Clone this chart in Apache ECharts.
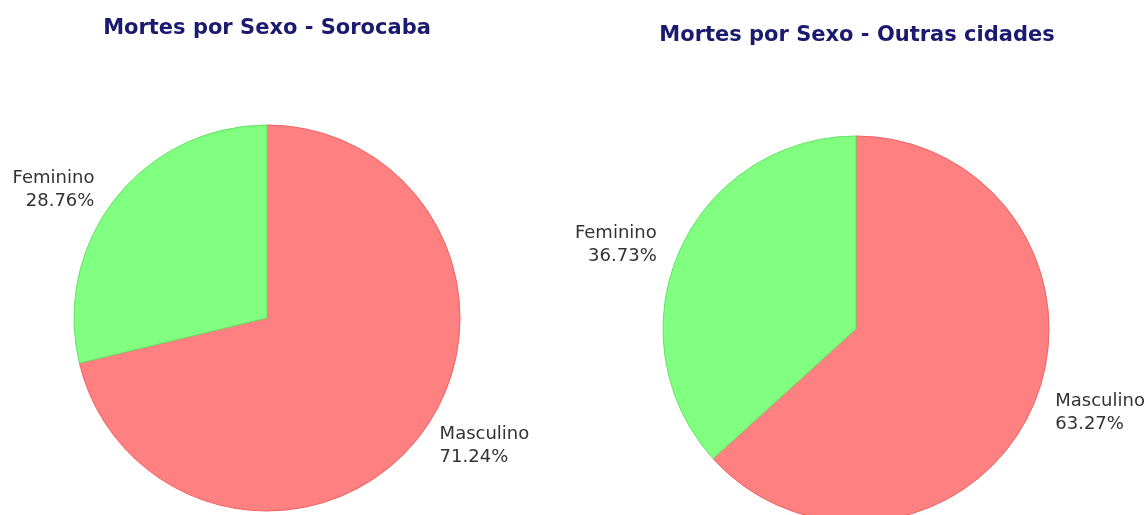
<!DOCTYPE html>
<html>
<head>
<meta charset="utf-8">
<title>Mortes por Sexo</title>
<script src="https://cdn.jsdelivr.net/npm/echarts@6/dist/echarts.min.js"></script>
<style>
  html, body { margin: 0; padding: 0; background: #fff; }
  #chart { width: 1147px; height: 515px; }
</style>
</head>
<body>
<div id="chart"></div>
<script>
// dados
const categories = ['Masculino', 'Feminino'];
const sorocabaValues = [71.24, 28.76];
const outrasValues = [63.27, 36.73];
const chartTitles = ['Mortes por Sexo - Sorocaba', 'Mortes por Sexo - Outras cidades'];

const sliceColors = ['#ff8080', '#80ff80'];
const sliceBorders = ['#f26060', '#66e066'];

const chart = echarts.init(document.getElementById('chart'));

function buildData(values) {
  return categories.map((name, i) => {
    return {
      name: name,
      value: values[i],
      itemStyle: { color: sliceColors[i], borderColor: sliceBorders[i] }
    };
  });
}

function buildPie(values, center) {
  return {
    type: 'pie',
    center: center,
    radius: 193,
    startAngle: 90,
    clockwise: true,
    silent: true,
    data: buildData(values),
    itemStyle: { borderWidth: 1 },
    label: {
      show: true,
      position: 'outside',
      formatter(p) {
        return p.name + '\n' + p.value.toFixed(2) + '%';
      },
      color: '#333',
      fontFamily: 'DejaVu Sans',
      fontSize: 18,
      lineHeight: 23,
      overflow: 'none', // não cortar "Masculino" na borda direita
      distanceToLabelLine: 5
    },
    labelLine: { show: false, length: 14, length2: 5 },
    emphasis: { disabled: true }
  };
}

const titleStyle = {
  color: '#1a1a6e',
  fontFamily: 'DejaVu Sans',
  fontWeight: 'bold',
  fontSize: 21
};

chart.setOption({
  animation: false,
  title: [
    { text: chartTitles[0], left: 267, top: 18, textAlign: 'center', padding: 0, textStyle: titleStyle },
    { text: chartTitles[1], left: 857, top: 25, textAlign: 'center', padding: 0, textStyle: titleStyle }
  ],
  series: [
    buildPie(sorocabaValues, [267, 318]),
    buildPie(outrasValues, [856, 329])
  ]
});
</script>
</body>
</html>
